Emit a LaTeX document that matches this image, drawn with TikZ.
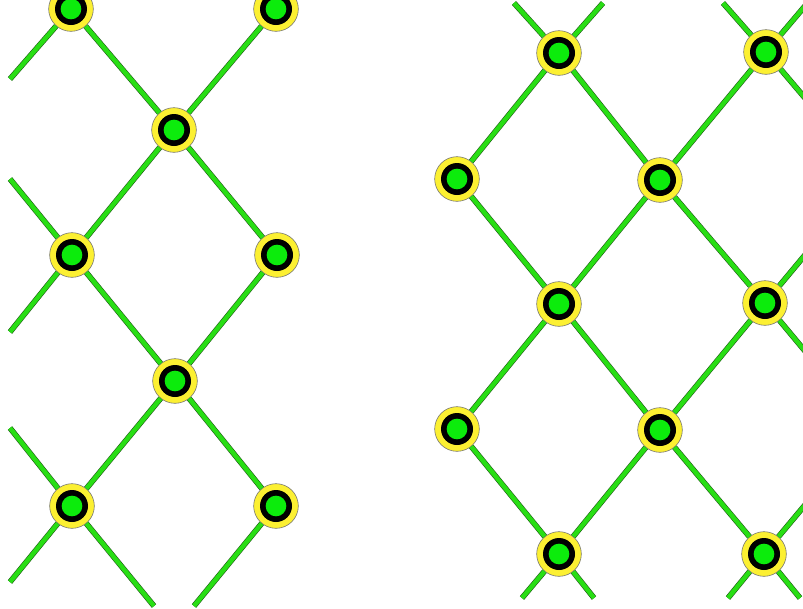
\documentclass[tikz,border=0pt]{standalone}
\usepackage{tikz}
\definecolor{knotyellow}{RGB}{252,240,50}
\definecolor{wiregreen}{RGB}{40,222,20}
\definecolor{coregreen}{RGB}{12,236,12}
\definecolor{wireedge}{RGB}{30,90,20}

\tikzset{
  knot/.style={circle, draw=black!55, line width=0.5pt, fill=knotyellow,
    minimum size=1.34cm, inner sep=0pt,
    path picture={
      \fill[black] (path picture bounding box.center) circle (0.48cm);
      \fill[coregreen] (path picture bounding box.center) circle (0.31cm);
    }},
  wire/.style={draw=wiregreen, line width=3.8pt,
    preaction={draw=wireedge, line width=4.8pt}}
}

\begin{document}
\begin{tikzpicture}[x=0.03cm, y=-0.03cm]
    \useasboundingbox (0,0) rectangle (803,608);
    \clip (0,0) rectangle (803,608);

    % Left mesh - knots
    \node[knot] (la) at (71,9) {};
    \node[knot] (lb) at (276,9) {};
    \node[knot] (lc) at (174,130) {};
    \node[knot] (ld) at (72,255) {};
    \node[knot] (le) at (277,255) {};
    \node[knot] (lf) at (175,381) {};
    \node[knot] (lg) at (72,506) {};
    \node[knot] (lh) at (276,506) {};

    % Left mesh - loose ends
    \coordinate (lx1) at (10,79);
    \coordinate (lx2) at (10,179);
    \coordinate (lx3) at (10,332);
    \coordinate (lx4) at (10,428);
    \coordinate (lx5) at (10,582);
    \coordinate (lx6) at (154,606);
    \coordinate (lx7) at (194,606);

    % Left mesh - wires
    \draw[wire] (la) -- (lx1);
    \draw[wire] (la) -- (lc);
    \draw[wire] (lb) -- (lc);
    \draw[wire] (lc) -- (ld);
    \draw[wire] (lc) -- (le);
    \draw[wire] (lx2) -- (ld);
    \draw[wire] (ld) -- (lx3);
    \draw[wire] (ld) -- (lf);
    \draw[wire] (le) -- (lf);
    \draw[wire] (lf) -- (lg);
    \draw[wire] (lf) -- (lh);
    \draw[wire] (lx4) -- (lg);
    \draw[wire] (lg) -- (lx5);
    \draw[wire] (lg) -- (lx6);
    \draw[wire] (lh) -- (lx7);

    % Right mesh - knots
    \node[knot] (ra) at (559,53) {};
    \node[knot] (rb) at (766,52) {};
    \node[knot] (rc) at (457,179) {};
    \node[knot] (rd) at (660,180) {};
    \node[knot] (re) at (559,304) {};
    \node[knot] (rf) at (765,303) {};
    \node[knot] (rg) at (457,429) {};
    \node[knot] (rh) at (660,430) {};
    \node[knot] (ri) at (559,554) {};
    \node[knot] (rj) at (764,554) {};

    % Right mesh - loose ends
    \coordinate (rx1) at (514,3);
    \coordinate (rx2) at (603,3);
    \coordinate (rx3) at (723,3);
    \coordinate (rx4) at (805,6);
    \coordinate (rx5) at (805,98);
    \coordinate (rx6) at (805,255);
    \coordinate (rx7) at (805,351);
    \coordinate (rx8) at (805,505);
    \coordinate (rx9) at (522,598);
    \coordinate (rx10) at (594,598);
    \coordinate (rx11) at (728,598);
    \coordinate (rx12) at (800,598);

    % Right mesh - wires
    \draw[wire] (rx1) -- (ra);
    \draw[wire] (ra) -- (rx2);
    \draw[wire] (rx3) -- (rb);
    \draw[wire] (rb) -- (rx4);
    \draw[wire] (rb) -- (rx5);
    \draw[wire] (ra) -- (rc);
    \draw[wire] (ra) -- (rd);
    \draw[wire] (rb) -- (rd);
    \draw[wire] (rc) -- (re);
    \draw[wire] (rd) -- (re);
    \draw[wire] (rd) -- (rf);
    \draw[wire] (rf) -- (rx6);
    \draw[wire] (rf) -- (rx7);
    \draw[wire] (re) -- (rg);
    \draw[wire] (re) -- (rh);
    \draw[wire] (rf) -- (rh);
    \draw[wire] (rg) -- (ri);
    \draw[wire] (rh) -- (ri);
    \draw[wire] (rh) -- (rj);
    \draw[wire] (rj) -- (rx8);
    \draw[wire] (ri) -- (rx9);
    \draw[wire] (ri) -- (rx10);
    \draw[wire] (rj) -- (rx11);
    \draw[wire] (rj) -- (rx12);
\end{tikzpicture}
\end{document}
